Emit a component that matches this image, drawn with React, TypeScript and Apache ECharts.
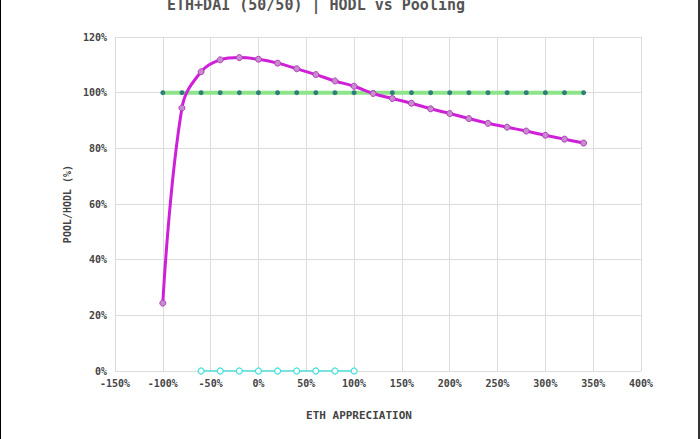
import React, { useEffect, useRef } from "react";
import * as echarts from "echarts";

const xTicksMin = -150;
const xTicksMax = 400;
const poolX = [-100, -80, -60, -40, -20, 0, 20, 40, 60, 80, 100, 120, 140, 160, 180, 200, 220, 240, 260, 280, 300, 320, 340];
const poolVals = [24.4, 94.5, 107.5, 111.8, 112.6, 112.0, 110.6, 108.6, 106.5, 104.2, 102.3, 99.7, 97.9, 96.2, 94.2, 92.5, 90.7, 89.0, 87.6, 86.2, 84.7, 83.3, 81.9];
const hodlVals = [100, 100, 100, 100, 100, 100, 100, 100, 100, 100, 100, 100, 100, 100, 100, 100, 100, 100, 100, 100, 100, 100, 100];
const rangeX = [-60, -40, -20, 0, 20, 40, 60, 80, 100];
const rangeVals = [0, 0, 0, 0, 0, 0, 0, 0, 0];

const FONT = "DejaVu Sans Mono";

export default function App() {
  const ref = useRef<HTMLDivElement>(null);
  useEffect(() => {
    const chart = echarts.init(ref.current!, undefined, { renderer: "svg" });
    chart.setOption({
      animation: false,
      backgroundColor: "#ffffff",
      title: {
        text: "ETH+DAI (50/50) | HODL vs Pooling",
        left: 162,
        top: -8,
        textStyle: { fontFamily: FONT, fontSize: 15, fontWeight: "bold", color: "#555" },
      },
      grid: { left: 115, right: 59, top: 37, bottom: 68 },
      xAxis: {
        type: "value",
        min: xTicksMin,
        max: xTicksMax,
        interval: 50,
        axisLine: { show: false },
        axisTick: { show: false },
        splitLine: { show: true, lineStyle: { color: "#dcdcdc", width: 1 } },
        axisLabel: {
          formatter: "{value}%",
          fontFamily: FONT,
          fontSize: 10,
          fontWeight: "bold",
          color: "#444",
          margin: 7,
        },
      },
      yAxis: {
        type: "value",
        min: 0,
        max: 120,
        interval: 20,
        name: "POOL/HODL (%)",
        nameLocation: "middle",
        nameGap: 33,
        nameTextStyle: { fontFamily: FONT, fontSize: 10, fontWeight: "bold", color: "#444" },
        axisLine: { show: false },
        axisTick: { show: false },
        splitLine: { show: true, lineStyle: { color: "#dcdcdc", width: 1 } },
        axisLabel: {
          formatter: "{value}%",
          fontFamily: FONT,
          fontSize: 10,
          fontWeight: "bold",
          color: "#444",
          margin: 8,
        },
      },
      graphic: [
        {
          type: "text",
          x: 359,
          y: 415,
          style: {
            text: "ETH APPRECIATION",
            fontFamily: FONT,
            fontSize: 11,
            fontWeight: "bold",
            fill: "#444",
            align: "center",
            verticalAlign: "middle",
          },
        },
      ],
      series: [
        {
          type: "line",
          name: "HODL",
          data: poolX.map((x, i) => [x, hodlVals[i]]),
          symbol: "circle",
          symbolSize: 5,
          lineStyle: { color: "#8fe48a", width: 4 },
          itemStyle: { color: "#2f7f78", borderWidth: 0 },
          z: 2,
        },
        {
          type: "line",
          name: "POOL",
          data: poolX.map((x, i) => [x, poolVals[i]]),
          smooth: 0.4,
          symbol: "circle",
          symbolSize: 6,
          lineStyle: { color: "#d01fd8", width: 3 },
          itemStyle: { color: "#c98ad0", borderColor: "#b040b8", borderWidth: 1 },
          z: 3,
        },
        {
          type: "line",
          name: "RANGE",
          data: rangeX.map((x, i) => [x, rangeVals[i]]),
          symbol: "circle",
          symbolSize: 6,
          lineStyle: { color: "#3fe0dc", width: 1.5 },
          itemStyle: { color: "#ffffff", borderColor: "#3fe0dc", borderWidth: 1.2 },
          z: 4,
        },
      ],
    });
    return () => chart.dispose();
  }, []);
  return (
    <div style={{ position: "fixed", left: 0, top: 0, width: 700, height: 439, background: "#fff" }}>
      <div ref={ref} style={{ position: "absolute", left: 0, top: 0, width: 700, height: 439 }} />
      <div style={{ position: "absolute", left: 0, top: 0, width: 1, height: 439, background: "#000" }} />
      <div style={{ position: "absolute", left: 698, top: 0, width: 2, height: 439, background: "#333" }} />
    </div>
  );
}
